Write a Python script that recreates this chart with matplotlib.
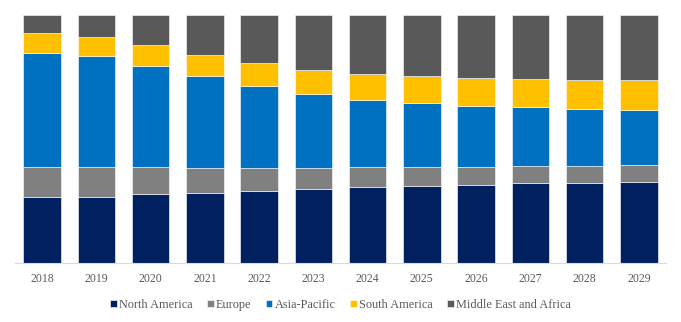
import matplotlib
matplotlib.use("Agg")
import matplotlib.pyplot as plt
import numpy as np

years = ["2018", "2019", "2020", "2021", "2022", "2023",
         "2024", "2025", "2026", "2027", "2028", "2029"]

# share of each region (%)
north_america = [26.6, 26.8, 27.7, 28.2, 29.0, 29.8, 30.5, 31.0, 31.5, 32.1, 32.3, 32.8]
europe = [11.9, 11.7, 10.9, 10.1, 9.3, 8.5, 8.1, 7.5, 7.2, 7.0, 6.8, 6.7]
asia_pacific = [46.3, 45.1, 40.9, 37.0, 32.9, 29.8, 27.2, 25.9, 24.7, 23.6, 23.0, 22.1]
south_america = [7.8, 7.7, 8.2, 8.7, 9.3, 9.8, 10.3, 10.9, 11.3, 11.5, 11.8, 12.1]
mea = [7.4, 8.7, 12.3, 16.0, 19.6, 22.1, 23.9, 24.7, 25.2, 25.8, 26.0, 26.3]

series = [
    ("North America", north_america, "#002060"),
    ("Europe", europe, "#808080"),
    ("Asia-Pacific", asia_pacific, "#0070C0"),
    ("South America", south_america, "#FFC000"),
    ("Middle East and Africa", mea, "#595959"),
]

plt.rcParams["font.family"] = ["Liberation Serif", "DejaVu Serif"]

fig = plt.figure(figsize=(6.81, 3.22), dpi=100)
ax = fig.add_axes([15 / 681, 59 / 322, 651 / 681, 248.3 / 322])

x = np.arange(len(years))
bottom = np.zeros(len(years))
for name, vals, col in series:
    vals = np.array(vals)
    ax.bar(x, vals, 0.69, bottom=bottom, color=col, label=name,
           edgecolor="white", linewidth=0.4)
    bottom += vals

ax.set_xlim(-0.5, len(years) - 0.5)
ax.set_ylim(0, bottom.max())
ax.set_yticks([])
ax.set_xticks(x)
ax.set_xticklabels(years, fontsize=8.5, color="#595959")
ax.tick_params(axis="x", length=0, pad=7.5)
for s in ["top", "right", "left"]:
    ax.spines[s].set_visible(False)
ax.spines["bottom"].set_color("#D9D9D9")
ax.spines["bottom"].set_linewidth(0.8)

leg = fig.legend(loc="center", bbox_to_anchor=(0.5, 17 / 322), ncol=5,
                 frameon=False, fontsize=8.8, handlelength=0.55, handleheight=0.55,
                 handletextpad=0.2, columnspacing=1.15)
for t in leg.get_texts():
    t.set_color("#595959")

fig.savefig("out.png", dpi=100)
